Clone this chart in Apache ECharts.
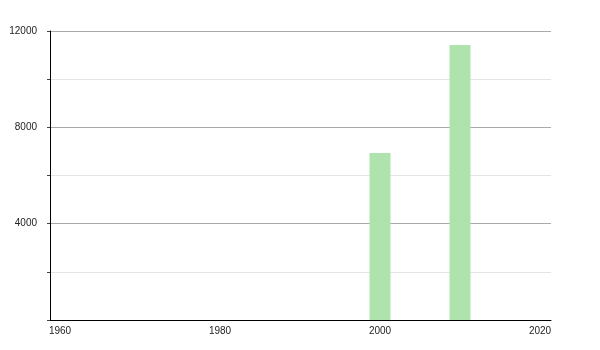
<!DOCTYPE html>
<html><head><meta charset="utf-8">
<script src="https://cdn.jsdelivr.net/npm/echarts@6/dist/echarts.min.js"></script>
<style>html,body{margin:0;padding:0;background:#fff}#c{width:600px;height:350px}</style>
</head><body><div id="c"></div>
<script>
var years = [2000, 2010];
var values = [6930, 11420];
var xLabels = [1960, 1980, 2000, 2020];
var yLabels = [4000, 8000, 12000];

var chart = echarts.init(document.getElementById('c'), null, {renderer: 'canvas'});
chart.setOption({
  animation: false,
  grid: {left: 50, right: 49, top: 31, bottom: 30, containLabel: false},
  xAxis: {
    type: 'value', min: 1958.75, max: 2021.375,
    axisLine: {show: true, lineStyle: {color: '#000', width: 1}},
    axisTick: {show: false},
    splitLine: {show: false},
    axisLabel: {customValues: xLabels, color: '#222', fontSize: 10, fontFamily: 'Liberation Sans, Arial', margin: 6,
      formatter: function (v) { return String(v); }}
  },
  yAxis: {
    type: 'value', min: 0, max: 12000, interval: 2000,
    axisLine: {show: true, lineStyle: {color: '#000', width: 1}},
    axisTick: {show: true, inside: false, length: 3, lineStyle: {color: '#444'}},
    splitLine: {show: true, lineStyle: {color: ['#aaaaaa', '#e4e4e4'], width: 1}},
    axisLabel: {customValues: yLabels, color: '#222', fontSize: 10, fontFamily: 'Liberation Sans, Arial', margin: 13,
      formatter: function (v) { return String(v); }}
  },
  series: [{
    type: 'bar',
    data: years.map(function (y, i) { return [y, values[i]]; }),
    barWidth: 21,
    itemStyle: {color: '#aee3ae'}
  }]
});
</script></body></html>
